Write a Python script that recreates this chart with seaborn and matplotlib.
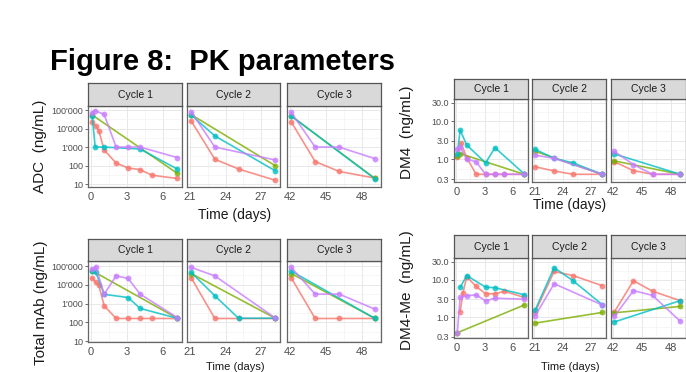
import numpy as np
import pandas as pd
import matplotlib
matplotlib.use("Agg")
import matplotlib.pyplot as plt
import seaborn as sns
from matplotlib import font_manager

# patients (ggplot default hue order)
patients = ["P1", "P2", "P3", "P4"]
colors = ["#F8766D", "#7CAE00", "#00BFC4", "#C77CFF"]
cycles = ["Cycle 1", "Cycle 2", "Cycle 3"]

# ADC (ng/mL)
adc_p1_t = [0.1, 0.4, 0.65, 1.1, 2.1, 3.1, 4.1, 5.1, 7.2, 21.1, 23.1, 25.1, 28.2, 42.1, 44.1, 46.1, 49.1]
adc_p1_v = [23000, 14000, 7800, 700, 135, 74, 60, 30, 20, 26000, 220, 65, 16, 23000, 165, 48, 21]
adc_p2_t = [0.1, 7.2, 21.1, 28.2, 42.1, 49.1]
adc_p2_v = [54000, 38, 57000, 98, 48000, 20]
adc_p3_t = [0.1, 0.35, 1.1, 4.1, 7.2, 21.1, 23.1, 28.2, 42.1, 49.1]
adc_p3_v = [49000, 1000, 1000, 780, 65, 54000, 4000, 52, 48000, 19]
adc_p4_t = [0.1, 0.35, 1.1, 2.1, 3.1, 4.1, 7.2, 21.1, 23.1, 28.2, 42.1, 44.1, 46.1, 49.1]
adc_p4_v = [66000, 92000, 58000, 1000, 1000, 1000, 270, 81000, 1000, 200, 75000, 1000, 1000, 235]

# Total mAb (ng/mL)
mab_p1_t = [0.1, 0.4, 0.65, 1.1, 2.1, 3.1, 4.1, 5.1, 7.2, 21.1, 23.1, 25.1, 28.2, 42.1, 44.1, 46.1, 49.1]
mab_p1_v = [24000, 13500, 9700, 760, 160, 160, 160, 160, 160, 24000, 160, 160, 160, 24000, 160, 160, 160]
mab_p2_t = [0.1, 7.2, 21.1, 28.2, 42.1, 49.1]
mab_p2_v = [56000, 165, 40000, 165, 40000, 160]
mab_p3_t = [0.1, 0.4, 1.1, 3.1, 4.1, 7.2, 21.1, 23.1, 25.1, 28.2, 42.1, 49.1]
mab_p3_v = [56000, 48000, 3100, 2100, 550, 165, 46000, 2600, 165, 165, 54000, 160]
mab_p4_t = [0.1, 0.4, 1.1, 2.1, 3.1, 4.1, 7.2, 21.1, 23.1, 28.2, 42.1, 44.1, 46.1, 49.1]
mab_p4_v = [66000, 91000, 3200, 30000, 22000, 3200, 180, 85000, 30000, 170, 85000, 3200, 3200, 500]

# DM4 (ng/mL)
dm4_p1_t = [0.1, 0.5, 1.1, 2.1, 3.1, 4.1, 5.1, 7.2, 21.1, 23.1, 25.1, 28.2, 42.1, 44.1, 46.1, 49.0]
dm4_p1_v = [1.15, 2.6, 1.1, 0.4, 0.4, 0.4, 0.4, 0.4, 0.63, 0.49, 0.4, 0.4, 0.85, 0.5, 0.4, 0.4]
dm4_p2_t = [0.1, 0.4, 7.2, 21.1, 28.2, 42.1, 49.0]
dm4_p2_v = [1.2, 1.4, 0.4, 1.6, 0.4, 0.9, 0.4]
dm4_p3_t = [0.1, 0.4, 1.1, 3.1, 4.1, 7.2, 21.1, 23.1, 25.1, 28.2, 42.1, 49.0]
dm4_p3_v = [1.37, 5.8, 2.35, 0.8, 2.0, 0.41, 1.8, 1.05, 0.8, 0.4, 1.37, 0.4]
dm4_p4_t = [0.1, 0.4, 1.1, 2.1, 3.1, 4.1, 5.1, 7.2, 21.1, 23.1, 28.2, 42.1, 44.1, 46.1, 49.0]
dm4_p4_v = [1.9, 2.1, 1.0, 0.85, 0.4, 0.4, 0.4, 0.4, 1.27, 1.05, 0.4, 1.6, 0.72, 0.4, 0.4]

# DM4-Me (ng/mL)
me_p1_t = [0.4, 0.7, 1.1, 2.1, 3.1, 4.1, 5.1, 7.2, 21.1, 23.1, 25.1, 28.2, 42.1, 44.1, 46.1, 49.0]
me_p1_v = [1.37, 4.4, 12, 6.6, 4.2, 4.2, 4.9, 3.35, 1.4, 16.6, 12.9, 6.9, 1.37, 9.4, 4.9, 2.75]
me_p2_t = [0.1, 7.2, 21.1, 28.2, 42.1, 49.0]
me_p2_v = [0.38, 2.1, 0.69, 1.33, 1.3, 1.93]
me_p3_t = [0.4, 1.1, 3.1, 4.1, 7.2, 21.1, 23.1, 25.1, 28.2, 42.1, 49.0]
me_p3_v = [6.2, 12.9, 6.3, 6.1, 3.95, 1.57, 21, 9.4, 2.15, 0.74, 2.75]
me_p4_t = [0.1, 0.4, 1.1, 2.1, 3.1, 4.1, 7.2, 21.1, 23.1, 28.2, 42.1, 44.1, 46.1, 49.0]
me_p4_v = [0.38, 3.35, 3.7, 3.95, 2.7, 3.2, 3.0, 1.1, 7.8, 2.1, 1.04, 5.1, 3.8, 0.77]

x_breaks = [[0, 3, 6], [21, 24, 27], [42, 45, 48]]
big_ticks = [10, 100, 1000, 10000, 100000]
big_labels = ["10", "100", "1'000", "10'000", "100'000"]
small_ticks = [0.3, 1, 3, 10, 30]
small_labels = ["0.3", "1.0", "3.0", "10.0", "30.0"]


def make_frame(series):
    rows = []
    for pt, (t, v) in zip(patients, series):
        for ti, vi in zip(t, v):
            cyc = cycles[0] if ti < 14 else (cycles[1] if ti < 35 else cycles[2])
            rows.append({"pt": pt, "t": ti, "v": vi, "cycle": cyc})
    return pd.DataFrame(rows)


adc = make_frame([(adc_p1_t, adc_p1_v), (adc_p2_t, adc_p2_v), (adc_p3_t, adc_p3_v), (adc_p4_t, adc_p4_v)])
mab = make_frame([(mab_p1_t, mab_p1_v), (mab_p2_t, mab_p2_v), (mab_p3_t, mab_p3_v), (mab_p4_t, mab_p4_v)])
dm4 = make_frame([(dm4_p1_t, dm4_p1_v), (dm4_p2_t, dm4_p2_v), (dm4_p3_t, dm4_p3_v), (dm4_p4_t, dm4_p4_v)])
dm4me = make_frame([(me_p1_t, me_p1_v), (me_p2_t, me_p2_v), (me_p3_t, me_p3_v), (me_p4_t, me_p4_v)])

sns.set_theme(style="white")
names = {f.name for f in font_manager.fontManager.ttflist}
narrow = "Liberation Sans Narrow" if "Liberation Sans Narrow" in names else "Liberation Sans"
plt.rcParams["font.family"] = ["Liberation Sans", "DejaVu Sans"]

W, H = 686, 372
fig = plt.figure(figsize=(W / 100, H / 100), dpi=100)
fig.patch.set_facecolor("white")


def box(x0, y0, x1, y1):
    return [x0 / W, 1 - y1 / H, (x1 - x0) / W, (y1 - y0) / H]


left_cols = [(88, 182), (187, 280), (287, 381)]
right_cols = [(454, 528), (532, 606), (611, 686)]

blocks = [
    # data, columns, strip y, panel y, log ylim, ticks, labels, ylabel, ylabel x/y, xlabel x/y/va
    (adc, left_cols, (83, 106), (106, 187), (0.84, 5.22), big_ticks, big_labels,
     "ADC  (ng/mL)", (40, 146), (235, 208, "top")),
    (dm4, right_cols, (79, 99), (99, 182), (-0.60, 1.58), small_ticks, small_labels,
     "DM4  (ng/mL)", (407, 132), (570, 198, "top")),
    (mab, left_cols, (239, 261), (261, 342), (0.95, 5.27), big_ticks, big_labels,
     "Total mAb (ng/mL)", (41, 303), (235, 371.5, "bottom")),
    (dm4me, right_cols, (235, 258), (258, 338), (-0.56, 1.58), small_ticks, small_labels,
     "DM4-Me  (ng/mL)", (407, 290), (570, 371.5, "bottom")),
]

for data, cols, (sy0, sy1), (py0, py1), (lo, hi), yt, yl, ylab, (lx, ly), (xx, xy, xva) in blocks:
    for i, (cx0, cx1) in enumerate(cols):
        ax = fig.add_axes(box(cx0, py0, cx1, py1))
        sub = data[data["cycle"] == cycles[i]]
        sns.lineplot(data=sub, x="t", y="v", hue="pt", hue_order=patients, palette=colors,
                     estimator=None, sort=False, marker="o", markersize=4.2,
                     markeredgewidth=0, linewidth=1.2, alpha=0.8, legend=False, ax=ax)
        ax.set_yscale("log")
        ax.set_ylim(10 ** lo, 10 ** hi)
        b = x_breaks[i]
        ax.set_xlim(b[0] - 0.25, b[0] + 7.6)
        ax.set_xticks(b)
        ax.set_xticks([b[0] + 1.5, b[0] + 4.5, b[0] + 7.5], minor=True)
        ax.set_yticks(yt)
        ax.set_yticks([np.sqrt(yt[k] * yt[k + 1]) for k in range(len(yt) - 1)], minor=True)
        ax.set_yticklabels(yl if i == 0 else [])
        ax.set_xticklabels([str(v) for v in b])
        ax.tick_params(which="minor", length=0)
        ax.tick_params(which="major", length=2.5, width=0.6, color="#555555", pad=1.2)
        ax.tick_params(axis="x", which="major", labelsize=8, labelcolor="#4D4D4D")
        ax.tick_params(axis="y", which="major", labelsize=6.5, labelcolor="#4D4D4D",
                       left=(i == 0))
        for lab in ax.get_xticklabels() + ax.get_yticklabels():
            lab.set_family([narrow, "DejaVu Sans"])
        ax.grid(which="major", color="#E8E8E8", linewidth=0.7)
        ax.grid(which="minor", color="#F3F3F3", linewidth=0.5)
        ax.set_axisbelow(True)
        ax.set_xlabel("")
        ax.set_ylabel("")
        for sp in ax.spines.values():
            sp.set_color("#666666")
            sp.set_linewidth(0.9)

        st = fig.add_axes(box(cx0, sy0, cx1, sy1))
        st.set_facecolor("#D9D9D9")
        st.set_xticks([])
        st.set_yticks([])
        for sp in st.spines.values():
            sp.set_color("#555555")
            sp.set_linewidth(0.9)
        st.text(0.5, 0.5, cycles[i], ha="center", va="center", fontsize=7.5,
                color="#1A1A1A", family=[narrow, "DejaVu Sans"], transform=st.transAxes)

    fig.text(lx / W, 1 - ly / H, ylab, rotation=90, ha="center", va="center",
             fontsize=11, color="#1A1A1A")
    fig.text(xx / W, 1 - xy / H, "Time (days)", ha="center", va=xva,
             fontsize=10 if xva == "top" else 8, color="#1A1A1A",
             family=[narrow, "DejaVu Sans"])

fig.text(50 / W, 1 - 62 / H, "Figure 8:  PK parameters", ha="left", va="center",
         fontsize=21, fontweight="bold", color="black")

fig.savefig("out.png", dpi=100, facecolor="white")
